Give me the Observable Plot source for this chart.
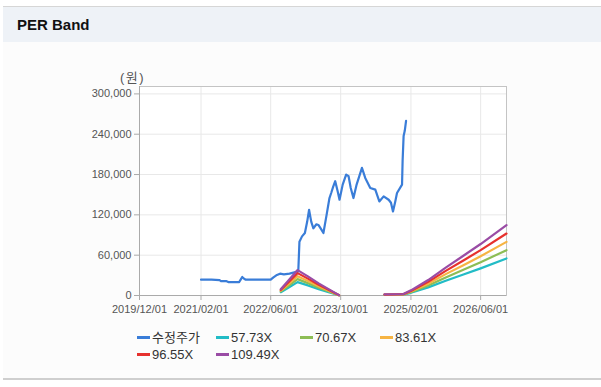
<!DOCTYPE html>
<html>
<head>
<meta charset="utf-8">
<script src="https://cdn.jsdelivr.net/npm/d3@7"></script>
<script src="https://cdn.jsdelivr.net/npm/@observablehq/plot@0.6"></script>
<style>
  html, body { margin: 0; padding: 0; background: #ffffff; }
  body { width: 601px; height: 387px; position: relative; overflow: hidden; font-family: "Liberation Sans", Arial, "Noto Sans CJK KR", sans-serif; }
  #panel { position: absolute; left: 3px; top: 6px; width: 598px; height: 374px; background: #fcfcfc; border-top: 1px solid #d6d6d6; border-bottom: 2px solid #cfcfcf; box-sizing: border-box; }
  #hdr { position: absolute; left: 3px; top: 7px; width: 598px; height: 35px; background: #eef2f7; }
  #title { position: absolute; left: 17px; top: 16px; font-size: 15px; font-weight: bold; color: #111; line-height: 18px; }
  #chart { position: absolute; left: 0; top: 48px; }
  #unit { position: absolute; left: 120px; top: 67px; font-size: 13px; color: #555; letter-spacing: 1.5px; font-family: "Liberation Sans", Arial, "Noto Sans CJK KR", sans-serif; }
  .lg { position: absolute; font-size: 13px; color: #333; line-height: 16px; white-space: nowrap; }
  .lg i { display: inline-block; width: 13px; height: 3px; vertical-align: middle; margin-right: 2px; position: relative; top: -1px; }
</style>
</head>
<body>
<div id="panel"></div>
<div id="hdr"></div>
<div id="title">PER Band</div>
<div id="chart"></div>
<div id="unit">(원)</div>
<div id="legend"></div>
<script>
// ---- data ----
const priceDates = [
  "2021-02-01","2021-04-15","2021-06-10","2021-06-20","2021-07-25","2021-08-10","2021-10-25","2021-11-05",
  "2021-11-15","2021-11-28","2021-12-10","2022-06-01","2022-06-20","2022-07-10","2022-08-05","2022-09-01",
  "2022-10-10","2022-11-20","2022-12-10","2022-12-18","2023-01-05","2023-01-25","2023-02-10","2023-02-23",
  "2023-03-10","2023-03-25","2023-04-15","2023-04-29","2023-05-20","2023-06-03","2023-06-25","2023-07-15",
  "2023-07-27","2023-08-10","2023-08-24","2023-09-10","2023-09-23","2023-10-15","2023-11-08","2023-11-25",
  "2023-12-10","2023-12-29","2024-01-20","2024-02-26","2024-03-20","2024-04-24","2024-05-29","2024-06-26",
  "2024-07-26","2024-08-30","2024-09-15","2024-09-29","2024-10-15","2024-10-27","2024-12-01","2024-12-05",
  "2024-12-12","2024-12-20","2024-12-29"
];
const priceValues = [
  23500,23500,23000,21500,21500,20000,20000,24000,
  27500,25000,23500,23500,27000,30000,32500,31500,
  32500,35000,36000,80000,88000,93000,110000,127500,
  110000,100000,106000,105000,98000,93000,120000,145000,
  152500,162000,170000,155000,142500,165000,180000,177500,
  160000,145000,165000,190000,175000,160000,157500,140000,
  147500,142500,138000,125000,140000,152500,165000,200000,
  237500,245000,260000
];

const bandDates = [
  "2022-08-10","2022-10-10","2022-12-05","2023-02-15","2023-05-01","2023-07-15","2023-09-20",
  "2024-01-01",
  "2024-08-01","2024-12-10","2025-02-01","2025-06-01","2025-10-01","2026-02-01","2026-06-01","2026-11-28"
];
const band5773  = [4900, 12700, 19900, 15000,  9500, 4600, 290, null,  870, 1150, 4000, 12100, 21900, 31200, 40400, 55100];
const band7067  = [6000, 15500, 24400, 18400, 11700, 5650, 350, null, 1060, 1410, 4950, 14800, 26900, 38200, 49500, 67500];
const band8361  = [7100, 18400, 28800, 21700, 13800, 6700, 420, null, 1250, 1670, 5850, 17600, 31800, 45100, 58500, 79800];
const band9655  = [8200, 21200, 33300, 25100, 15900, 7700, 480, null, 1450, 1930, 6760, 20300, 36700, 52100, 67600, 92200];
const band10949 = [9300, 24100, 37800, 28500, 18100, 8800, 550, null, 1640, 2190, 7660, 23000, 41600, 59100, 76600, 104600];

const seriesNames = ["수정주가", "57.73X", "70.67X", "83.61X", "96.55X", "109.49X"];
const seriesColors = ["#3a7dd8", "#22bcc6", "#8dbd55", "#f6b443", "#e6312e", "#9a4ca5"];

const xTickLabels = ["2019/12/01","2021/02/01","2022/06/01","2023/10/01","2025/02/01","2026/06/01"];
const yTickValues = [0, 60000, 120000, 180000, 240000, 300000];

// ---- build tables ----
const parse = s => new Date(s + "T00:00:00Z");
const priceData = priceDates.map((d, i) => ({date: parse(d), value: priceValues[i]}));
const bandArrays = [band5773, band7067, band8361, band9655, band10949];
const bandData = bandArrays.map(arr => bandDates.map((d, i) => ({date: parse(d), value: arr[i] == null ? NaN : arr[i]})));
const xTicks = xTickLabels.map(s => parse(s.replace(/\//g, "-")));

const chart = Plot.plot({
  width: 601,
  height: 274,
  marginLeft: 139,
  marginRight: 95,
  marginTop: 38,
  marginBottom: 27,
  style: {background: "transparent", fontFamily: "'Liberation Sans', Arial, sans-serif", fontSize: "11px", color: "#555"},
  x: {type: "utc", domain: [parse("2019-12-01"), parse("2026-11-28")]},
  y: {domain: [0, 311000]},
  marks: [
    Plot.frame({fill: "#ffffff", stroke: null}),
    Plot.gridX(xTicks, {stroke: "#e8e8e8", strokeOpacity: 1}),
    Plot.gridY(yTickValues, {stroke: "#e8e8e8", strokeOpacity: 1}),
    Plot.frame({stroke: "#c4c4c4"}),
    Plot.axisX(xTicks, {tickFormat: d3.utcFormat("%Y/%m/%d"), tickSize: 5, tickPadding: 5, stroke: "#aaa", fill: "#555", label: null}),
    Plot.axisY(yTickValues, {tickFormat: d3.format(","), tickSize: 5, tickPadding: 3, stroke: "#aaa", fill: "#555", label: null}),
    Plot.ruleX([parse("2019-12-01")], {stroke: "#aaa"}),
    Plot.ruleY([0], {stroke: "#aaa"}),
    Plot.lineY(priceData, {x: "date", y: "value", stroke: seriesColors[0], strokeWidth: 2.2, curve: "linear"}),
    ...bandData.map((data, i) => Plot.lineY(data, {x: "date", y: "value", stroke: seriesColors[i + 1], strokeWidth: 2.2})),
  ]
});
document.getElementById("chart").appendChild(chart);

// ---- legend ----
const legendPos = [[137, 330], [216, 330], [300, 330], [380, 330], [137, 347], [216, 347]];
const legend = document.getElementById("legend");
seriesNames.forEach((name, i) => {
  const el = document.createElement("div");
  el.className = "lg";
  el.style.left = legendPos[i][0] + "px";
  el.style.top = legendPos[i][1] + "px";
  el.innerHTML = `<i style="background:${seriesColors[i]}"></i>${name}`;
  legend.appendChild(el);
});
</script>
</body>
</html>
